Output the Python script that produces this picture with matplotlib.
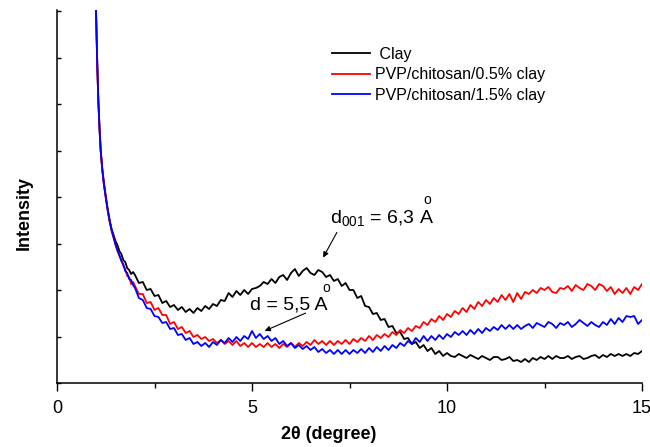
import numpy as np
import matplotlib
matplotlib.use('Agg')
import matplotlib.pyplot as plt

plt.rcParams['font.family'] = ['Liberation Sans', 'DejaVu Sans']
plt.rcParams['mathtext.fontset'] = 'custom'
plt.rcParams['mathtext.rm'] = 'Liberation Sans'
plt.rcParams['mathtext.it'] = 'Liberation Sans:italic'
plt.rcParams['mathtext.bf'] = 'Liberation Sans:bold'

# 2theta grid: fine steps on the steep low-angle edge, then 0.1 deg steps
x_steep = [0.96, 1.0, 1.03, 1.06, 1.09, 1.12, 1.16, 1.2, 1.25, 1.3, 1.35, 1.4,
           1.45, 1.5, 1.55, 1.6, 1.65, 1.7, 1.75, 1.8, 1.85, 1.9, 1.95]
x_main = np.round(np.arange(2.0, 15.05, 0.1), 1)

# intensity (a.u.)
clay_steep = [420, 362, 312, 272, 244, 222, 204, 190, 176, 163, 152, 143,
              137, 131, 127, 121, 118, 112, 110, 104, 102, 98, 100]
clay_main = [97, 89, 90, 82, 83, 76, 77, 69, 71, 65,
             67, 62, 65, 60, 63, 59, 64, 61, 66, 63,
             68, 66, 72, 71, 79, 75, 81, 77, 82, 78,
             83, 84, 86, 90, 88, 93, 89, 95, 97, 92,
             99, 103, 96, 101, 104, 99, 97, 102, 100, 95,
             97, 91, 93, 86, 89, 82, 82, 74, 76, 66,
             65, 58, 59, 52, 53, 45, 46, 39, 40, 33,
             34, 28, 30, 24, 27, 21, 24, 18, 21, 16,
             19, 16, 15, 18, 16, 14, 17, 15, 13, 16,
             14, 12, 15, 15, 12, 13, 15, 11, 12, 10,
             13, 10, 14, 12, 15, 13, 16, 13, 16, 14,
             14, 16, 13, 15, 16, 13, 14, 16, 17, 14,
             17, 15, 18, 16, 18, 16, 18, 16, 19, 18,
             21]

pvp05_steep = [420, 362, 310, 270, 243, 221, 202, 188, 174, 161, 150, 141,
               134, 127, 121, 116, 112, 106, 103, 96, 95, 88, 90]
pvp05_main = [86, 78, 78, 69, 70, 62, 64, 57, 57, 48,
              50, 43, 45, 39, 41, 35, 37, 33, 35, 31,
              33, 29, 32, 28, 31, 27, 31, 26, 29, 25,
              29, 25, 28, 25, 29, 25, 28, 24, 28, 25,
              29, 25, 29, 26, 30, 27, 32, 28, 31, 27,
              31, 27, 31, 28, 32, 28, 33, 30, 34, 31,
              36, 32, 37, 34, 38, 35, 40, 37, 42, 39,
              44, 41, 46, 44, 50, 47, 53, 50, 56, 52,
              58, 55, 61, 58, 64, 60, 67, 63, 70, 66,
              72, 68, 74, 70, 77, 72, 78, 70, 79, 73,
              80, 78, 82, 79, 84, 82, 85, 80, 79, 84,
              83, 86, 81, 87, 84, 82, 88, 86, 82, 88,
              86, 81, 85, 78, 83, 79, 84, 78, 85, 82,
              88]

pvp15_steep = [420, 362, 311, 271, 244, 222, 203, 189, 175, 162, 151, 142,
               135, 128, 122, 117, 111, 108, 101, 99, 93, 92, 87]
pvp15_main = [84, 74, 72, 64, 63, 56, 55, 49, 50, 43,
              44, 37, 38, 32, 34, 28, 30, 26, 29, 25,
              30, 27, 32, 29, 34, 30, 35, 31, 36, 33,
              41, 34, 38, 33, 36, 31, 34, 28, 31, 26,
              29, 24, 27, 23, 26, 22, 25, 20, 23, 19,
              22, 18, 22, 18, 22, 18, 22, 19, 23, 19,
              24, 20, 25, 21, 26, 22, 27, 24, 29, 26,
              31, 28, 34, 30, 36, 31, 36, 32, 37, 33,
              38, 35, 40, 37, 41, 37, 42, 38, 43, 39,
              44, 41, 45, 42, 47, 43, 47, 43, 47, 43,
              46, 48, 44, 49, 47, 45, 50, 48, 44, 49,
              47, 50, 45, 48, 52, 49, 46, 50, 47, 45,
              50, 47, 53, 48, 54, 50, 56, 55, 56, 48,
              52]

labels = [' Clay', 'PVP/chitosan/0.5% clay', 'PVP/chitosan/1.5% clay']
colors = ['black', 'red', 'blue']

two_theta = np.concatenate([x_steep, x_main])
series = [clay_steep + clay_main, pvp05_steep + pvp05_main, pvp15_steep + pvp15_main]

fig = plt.figure(figsize=(6.5, 4.47), dpi=100)
ax = fig.add_axes([57 / 650, 1 - 383 / 447, 585 / 650, 373 / 447])

for y, c, lab in zip(series, colors, labels):
    ax.plot(two_theta, y, color=c, lw=1.3, label=lab)

ax.set_xlim(0, 15)
ax.set_ylim(-11, 362)
ax.set_xticks([0, 5, 10, 15])
ax.set_xticks([2.5, 7.5, 12.5], minor=True)
ax.set_yticks(np.arange(-11, 362, 46.5))
ax.set_yticklabels([])
ax.tick_params(axis='x', direction='out', length=6, width=1.0, labelsize=13, pad=6)
ax.tick_params(axis='x', which='minor', direction='out', length=3.5, width=1.0)
ax.tick_params(axis='y', direction='in', length=3, width=1.0)
for s in ['top', 'right']:
    ax.spines[s].set_visible(False)
for s in ['left', 'bottom']:
    ax.spines[s].set_linewidth(1.1)

ax.set_xlabel('2θ (degree)', fontsize=13, fontweight='bold')
ax.xaxis.set_label_coords(0.465, -0.115)
ax.set_ylabel('Intensity', fontsize=13, fontweight='bold')
ax.yaxis.set_label_coords(-0.041, 0.457)

# peak labels
ax.text(7.0, 149, 'd$_{\\mathregular{001}}$ = 6,3 A', fontsize=14, va='baseline')
ax.text(9.49, 172, 'o', fontsize=10, ha='center', va='center')
ax.annotate('', xy=(6.79, 112), xytext=(7.21, 142),
            arrowprops=dict(arrowstyle='-|>', color='black', lw=0.8, mutation_scale=8))
ax.text(4.95, 62, 'd = 5,5 A', fontsize=14, va='baseline')
ax.text(6.9, 84, 'o', fontsize=10, ha='center', va='center')
ax.annotate('', xy=(5.26, 40), xytext=(6.44, 60),
            arrowprops=dict(arrowstyle='-|>', color='black', lw=0.8, mutation_scale=8))

ax.legend(loc='upper left', bbox_to_anchor=(332 / 650, 1 - 47 / 447),
          bbox_transform=fig.transFigure, frameon=False, fontsize=11.5,
          borderpad=0, borderaxespad=0, handlelength=2.35, handletextpad=0.35,
          labelspacing=0.33)

fig.savefig('out.png', dpi=100)
